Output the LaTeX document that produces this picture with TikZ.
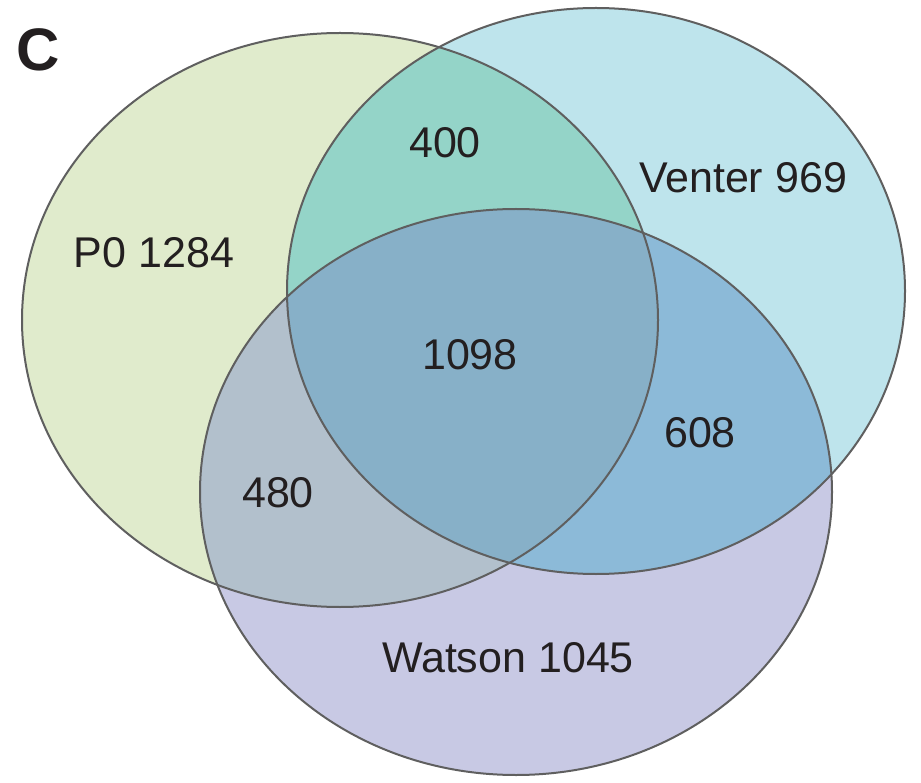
\documentclass[tikz,border=0pt]{standalone}
\usepackage{fontspec}
\setmainfont{Liberation Sans}
\usetikzlibrary{positioning}

\definecolor{pzerofill}{RGB}{224,235,204}
\definecolor{venterfill}{RGB}{190,228,236}
\definecolor{watsonfill}{RGB}{200,201,228}
\definecolor{pvfill}{RGB}{148,212,200}
\definecolor{pwfill}{RGB}{178,192,204}
\definecolor{vwfill}{RGB}{140,186,216}
\definecolor{allfill}{RGB}{135,176,200}
\definecolor{rimgray}{RGB}{95,95,95}
\definecolor{inkdark}{RGB}{35,31,32}

\newcommand{\pzeroset}{(340,320) ellipse [x radius=318pt, y radius=287pt]}
\newcommand{\venterset}{(596,291) ellipse [x radius=309pt, y radius=283pt]}
\newcommand{\watsonset}{(516,492) ellipse [x radius=316pt, y radius=283pt]}

\begin{document}
\begin{tikzpicture}[x=1pt,y=-1pt,
    rim/.style={draw=rimgray, line width=2pt},
    count/.style={text=inkdark, inner sep=0pt, font=\fontsize{43}{43}\selectfont}]
  \useasboundingbox (0,0) rectangle (921,783);
  % single sets
  \fill[pzerofill] \pzeroset;
  \fill[venterfill] \venterset;
  \fill[watsonfill] \watsonset;
  % overlaps
  \begin{scope}
    \clip \pzeroset;
    \fill[pvfill] \venterset;
    \fill[pwfill] \watsonset;
  \end{scope}
  \begin{scope}
    \clip \venterset;
    \fill[vwfill] \watsonset;
  \end{scope}
  \begin{scope}
    \clip \pzeroset;
    \clip \venterset;
    \fill[allfill] \watsonset;
  \end{scope}
  \draw[rim] \pzeroset;
  \draw[rim] \venterset;
  \draw[rim] \watsonset;

  \node[text=inkdark, inner sep=0pt, font=\bfseries\fontsize{60}{60}\selectfont] (panel) at (38,50) {C};
  \node[count] (pzero) at (154,253) {P0 1284};
  \node[count] (venter) at (743,178) {Venter 969};
  \node[count] (watson) at (508,658) {Watson 1045};
  \node[count] (pv) at (445,143) {400};
  \node[count] (all) at (470,355) {1098};
  \node[count] (vw) at (700,433) {608};
  \node[count] (pw) at (278,493) {480};
\end{tikzpicture}
\end{document}
